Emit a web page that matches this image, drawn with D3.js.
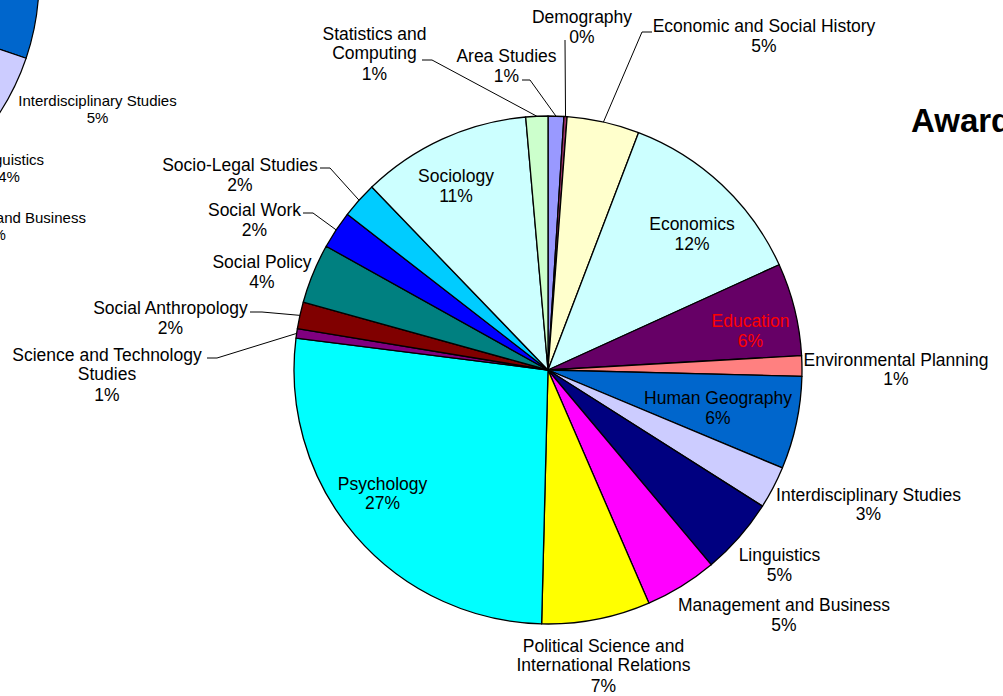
<!DOCTYPE html>
<html>
<head>
<meta charset="utf-8">
<script src="https://cdn.jsdelivr.net/npm/d3@7/dist/d3.min.js"></script>
<style>
  html, body { margin: 0; padding: 0; background: #fff; }
  svg { display: block; }
  text { font-family: "Liberation Sans", Arial, sans-serif; }
</style>
</head>
<body>
<svg id="chart" width="1003" height="696"></svg>
<script>
// Share of awards by discipline (per cent), in chart order clockwise from 12 o'clock
const categories = [
  "Area Studies", "Demography", "Economic and Social History", "Economics",
  "Education", "Environmental Planning", "Human Geography",
  "Interdisciplinary Studies", "Linguistics", "Management and Business",
  "Political Science and International Relations", "Psychology",
  "Science and Technology Studies", "Social Anthropology", "Social Policy",
  "Social Work", "Socio-Legal Studies", "Sociology", "Statistics and Computing"
];
const values = [1.0, 0.2, 4.6, 12.4, 5.9, 1.3, 5.9, 2.7, 4.9, 4.6, 6.9, 26.6,
                0.6, 1.7, 3.8, 2.4, 2.3, 10.8, 1.4];
const colors = ["#9999FF", "#993366", "#FFFFCC", "#CCFFFF", "#660066", "#FF8080",
                "#0066CC", "#CCCCFF", "#000080", "#FF00FF", "#FFFF00", "#00FFFF",
                "#800080", "#800000", "#008080", "#0000FF", "#00CCFF", "#CCFFFF",
                "#CCFFCC"];

// Neighbouring chart (partly outside the frame)
const leftCategories = ["Human Geography", "Interdisciplinary Studies", "Linguistics", "Management and Business"];
const leftValues = [6, 5, 4, 5];
const leftColors = ["#0066CC", "#CCCCFF", "#000080", "#FF00FF"];

const titleText = "Awards by Discipline";

// ---- layout ----
const W = 1003, H = 696;
const cx = 548, cy = 370, R = 254;
const fontSize = 17.5, lineGap = 19, pctGap = 19.5, pctGapWrapped = 21;

// label text block: [centre x, cap-centre y of first line], name lines, leader anchor
const labelLayout = {
  "Area Studies": { pos: [506.5, 56], lines: ["Area Studies"], leader: [522, 80], elbow: 8 },
  "Demography": { pos: [582, 17], lines: ["Demography"], leader: [565, 40], elbow: 0 },
  "Economic and Social History": { pos: [764, 26], lines: ["Economic and Social History"], leader: [652, 32], elbow: -10 },
  "Economics": { pos: [692, 224], lines: ["Economics"] },
  "Education": { pos: [750.5, 321], lines: ["Education"], color: "#FF0000" },
  "Environmental Planning": { pos: [896, 359.5], lines: ["Environmental Planning"] },
  "Human Geography": { pos: [718, 398], lines: ["Human Geography"] },
  "Interdisciplinary Studies": { pos: [868.5, 494.5], lines: ["Interdisciplinary Studies"] },
  "Linguistics": { pos: [779.5, 555], lines: ["Linguistics"] },
  "Management and Business": { pos: [784, 605], lines: ["Management and Business"] },
  "Political Science and International Relations": { pos: [603.5, 646], lines: ["Political Science and", "International Relations"] },
  "Psychology": { pos: [382.5, 483.5], lines: ["Psychology"] },
  "Science and Technology Studies": { pos: [107, 355], lines: ["Science and Technology", "Studies"], leader: [207, 358], elbow: 10 },
  "Social Anthropology": { pos: [170.5, 308], lines: ["Social Anthropology"], leader: [250, 312], elbow: 12 },
  "Social Policy": { pos: [262, 262], lines: ["Social Policy"] },
  "Social Work": { pos: [254.5, 210], lines: ["Social Work"], leader: [303, 213], elbow: 10 },
  "Socio-Legal Studies": { pos: [240, 165], lines: ["Socio-Legal Studies"], leader: [320, 168], elbow: 10 },
  "Sociology": { pos: [456, 176], lines: ["Sociology"] },
  "Statistics and Computing": { pos: [374.5, 34], lines: ["Statistics and", "Computing"], leader: [422, 60], elbow: 10 }
};

const leftPie = { cx: -205, cy: -20, r: 244, start: 87.1 * Math.PI / 180, fontSize: 15 };
const leftLabelLayout = {
  "Interdisciplinary Studies": { pos: [97.5, 100.5], lines: ["Interdisciplinary Studies"] },
  "Linguistics": { pos: [9, 160], lines: ["Linguistics"] },
  "Management and Business": { pos: [-5, 218], lines: ["Management and Business"] }
};

const svg = d3.select("#chart");
svg.append("rect").attr("width", W).attr("height", H).attr("fill", "#fff");

// draws the text block for one slice; y given as cap centre of the first line
function drawLabel(g, layout, pctText, size, color) {
  const capMid = size * 0.36;
  const [x, y] = layout.pos;
  const t = g.append("text")
    .attr("text-anchor", "middle")
    .attr("font-size", size)
    .attr("fill", color || "#000");
  const scale = size / fontSize;
  layout.lines.forEach((ln, i) => {
    t.append("tspan").attr("x", x).attr("y", y + i * lineGap * scale + capMid).text(ln);
  });
  const gap = layout.lines.length > 1 ? pctGapWrapped : pctGap;
  t.append("tspan").attr("x", x)
    .attr("y", y + (layout.lines.length - 1) * lineGap * scale + gap * scale + capMid)
    .text(pctText);
}

// ---- neighbouring pie, mostly off-frame ----
const leftTotal = 100;
const leftArcs = d3.pie().sort(null).value(d => d)
  .startAngle(leftPie.start).endAngle(leftPie.start + 2 * Math.PI * d3.sum(leftValues) / leftTotal)(leftValues);
const leftArc = d3.arc().innerRadius(0).outerRadius(leftPie.r);
const gl = svg.append("g").attr("transform", `translate(${leftPie.cx},${leftPie.cy})`);
gl.selectAll("path").data(leftArcs).join("path")
  .attr("d", leftArc)
  .attr("fill", (d, i) => leftColors[i])
  .attr("stroke", "#000").attr("stroke-width", 1.2).attr("stroke-linejoin", "round");
const glab = svg.append("g");
leftCategories.forEach((c, i) => {
  const lay = leftLabelLayout[c];
  if (!lay) return;
  drawLabel(glab, lay, Math.round(leftValues[i] / leftTotal * 100) + "%", leftPie.fontSize);
});

// ---- main pie ----
const total = d3.sum(values);
const pie = d3.pie().sort(null).value(d => d).startAngle(0).endAngle(2 * Math.PI);
const arcs = pie(values);
const arc = d3.arc().innerRadius(0).outerRadius(R);

const g = svg.append("g").attr("transform", `translate(${cx},${cy})`);
g.selectAll("path").data(arcs).join("path")
  .attr("d", arc)
  .attr("fill", (d, i) => colors[i])
  .attr("stroke", "#000").attr("stroke-width", 1.3).attr("stroke-linejoin", "round");

// leader lines from outside labels to the slice's outer edge
const leaders = svg.append("g").attr("fill", "none").attr("stroke", "#000").attr("stroke-width", 1);
arcs.forEach((d, i) => {
  const lay = labelLayout[categories[i]];
  if (!lay.leader) return;
  const mid = (d.startAngle + d.endAngle) / 2;
  const ex = cx + R * Math.sin(mid), ey = cy - R * Math.cos(mid);
  const [lx, ly] = lay.leader;
  const pts = lay.elbow ? [[lx, ly], [lx + lay.elbow, ly], [ex, ey]] : [[lx, ly], [ex, ey]];
  leaders.append("path").attr("d", d3.line()(pts));
});

// labels
const labels = svg.append("g");
arcs.forEach((d, i) => {
  const lay = labelLayout[categories[i]];
  drawLabel(labels, lay, Math.round(values[i] / total * 100) + "%", fontSize, lay.color);
});

// title (runs past the right edge)
svg.append("text")
  .attr("x", 911).attr("y", 132)
  .attr("font-family", "'Open Sans', sans-serif")
  .attr("font-weight", 700)
  .attr("font-size", 33)
  .attr("fill", "#000")
  .text(titleText);
</script>
</body>
</html>
